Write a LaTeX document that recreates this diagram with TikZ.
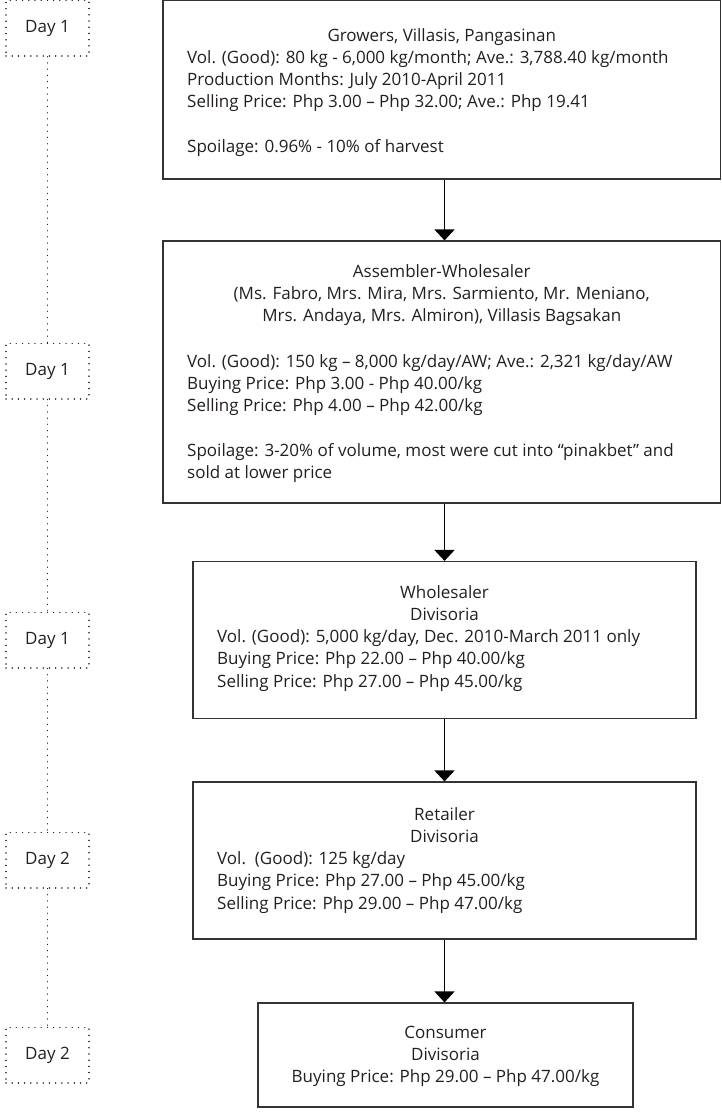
\documentclass[tikz,border=0pt]{standalone}
\usepackage{fontspec}
\setmainfont{Open Sans}
\usetikzlibrary{arrows.meta}
\definecolor{ink}{HTML}{231F20}
\definecolor{rule}{HTML}{333333}
\newcommand{\bodyfont}{\fontsize{17}{22.3}\selectfont}
\tikzset{
  flowbox/.style={draw=rule, line width=1.2pt, rectangle, inner sep=0pt, fill=none},
  daybox/.style={draw=ink, line width=1.5pt, line cap=round, dash pattern=on 0.01pt off 6.2pt,
                 rectangle, minimum width=83pt, minimum height=55.5pt, inner sep=0pt,
                 font=\bodyfont, text=ink},
  dayline/.style={draw=ink, line width=1.5pt, line cap=round, dash pattern=on 0.01pt off 6.2pt},
  flowarrow/.style={draw=black, line width=1.8pt, -{Triangle[width=20pt,length=11pt]}},
  txt/.style={inner sep=0pt, font=\bodyfont, text=ink},
}
\begin{document}
\begin{tikzpicture}[x=1pt,y=-1pt]
  \useasboundingbox (0,0) rectangle (721,1114);

  % main boxes of the chain
  \node[flowbox, minimum width=557.5pt, minimum height=178.5pt] (grow)   at (441.75, 89.75) {};
  \node[flowbox, minimum width=557.5pt, minimum height=262pt]   (assem)  at (441.75, 372) {};
  \node[flowbox, minimum width=503pt,   minimum height=157pt]   (whole)  at (444.5, 640) {};
  \node[flowbox, minimum width=503pt,   minimum height=157pt]   (retail) at (444.5, 860.5) {};
  \node[flowbox, minimum width=375pt,   minimum height=104pt]   (cons)   at (445.5, 1055) {};

  % growers
  \node[txt, anchor=base] (growT) at (441.75, 41) {Growers, Villasis, Pangasinan};
  \node[txt, anchor=base west] (growB) at (187, 63) {\begin{tabular}[t]{@{}l@{}}
    Vol. (Good): 80 kg - 6,000 kg/month; Ave.: 3,788.40 kg/month\\
    Production Months: July 2010-April 2011\\
    Selling Price: Php 3.00 – Php 32.00; Ave.: Php 19.41\\
    \\
    Spoilage: 0.96\% - 10\% of harvest
  \end{tabular}};

  % assembler-wholesaler
  \node[txt, anchor=base] (assemT) at (441.75, 277) {\begin{tabular}[t]{@{}c@{}}
    Assembler-Wholesaler\\
    (Ms. Fabro, Mrs. Mira, Mrs. Sarmiento, Mr. Meniano,\\
    Mrs. Andaya, Mrs. Almiron), Villasis Bagsakan
  \end{tabular}};
  \node[txt, anchor=base west] (assemB) at (187, 367) {\begin{tabular}[t]{@{}l@{}}
    Vol. (Good): 150 kg – 8,000 kg/day/AW; Ave.: 2,321 kg/day/AW\\
    Buying Price: Php 3.00 - Php 40.00/kg\\
    Selling Price: Php 4.00 – Php 42.00/kg\\
    \\
    Spoilage: 3-20\% of volume, most were cut into “pinakbet” and\\
    sold at lower price
  \end{tabular}};

  % wholesaler
  \node[txt, anchor=base] (wholeT) at (444.5, 598) {\begin{tabular}[t]{@{}c@{}}
    Wholesaler\\ Divisoria
  \end{tabular}};
  \node[txt, anchor=base west] (wholeB) at (217, 642.6) {\begin{tabular}[t]{@{}l@{}}
    Vol. (Good): 5,000 kg/day, Dec. 2010-March 2011 only\\
    Buying Price: Php 22.00 – Php 40.00/kg\\
    Selling Price: Php 27.00 – Php 45.00/kg
  \end{tabular}};

  % retailer
  \node[txt, anchor=base] (retailT) at (444.5, 820) {\begin{tabular}[t]{@{}c@{}}
    Retailer\\ Divisoria
  \end{tabular}};
  \node[txt, anchor=base west] (retailB) at (217, 864.6) {\begin{tabular}[t]{@{}l@{}}
    Vol.\ \ (Good): 125 kg/day\\
    Buying Price: Php 27.00 – Php 45.00/kg\\
    Selling Price: Php 29.00 – Php 47.00/kg
  \end{tabular}};

  % consumer
  \node[txt, anchor=base] (consT) at (445.5, 1038) {\begin{tabular}[t]{@{}c@{}}
    Consumer\\ Divisoria\\ Buying Price: Php 29.00 – Php 47.00/kg
  \end{tabular}};

  % flow arrows
  \draw[flowarrow] (grow.south -| whole.north)  -- (assem.north -| whole.north);
  \draw[flowarrow] (assem.south -| whole.north) -- (whole.north);
  \draw[flowarrow] (whole.south)  -- (retail.north);
  \draw[flowarrow] (retail.south) -- (cons.north -| retail.south);

  % timeline of days
  \node[daybox] (d1) at (47.5, 28.25) {Day 1};
  \node[daybox] (d2) at (47.5, 371)   {Day 1};
  \node[daybox] (d3) at (47.5, 640)   {Day 1};
  \node[daybox] (d4) at (47.5, 860)   {Day 2};
  \node[daybox] (d5) at (47.5, 1055)  {Day 2};
  \draw[dayline] (d1.south) -- (d2.north);
  \draw[dayline] (d2.south) -- (d3.north);
  \draw[dayline] (d3.south) -- (d4.north);
  \draw[dayline] (d4.south) -- (d5.north);
\end{tikzpicture}
\end{document}
